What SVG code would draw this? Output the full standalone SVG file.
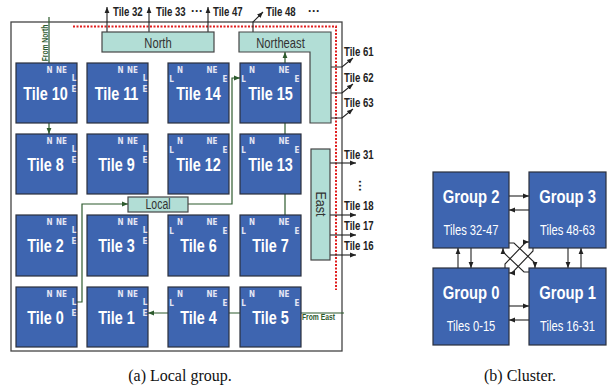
<svg xmlns="http://www.w3.org/2000/svg" width="610" height="392" viewBox="0 0 610 392">
<defs>
<marker id="ah" viewBox="0 0 10 10" refX="10" refY="5" markerWidth="6" markerHeight="6" markerUnits="userSpaceOnUse" orient="auto"><path d="M0,1 L10,5 L0,9z" fill="#222"/></marker>
<marker id="gh" viewBox="0 0 10 10" refX="10" refY="5" markerWidth="6" markerHeight="6" markerUnits="userSpaceOnUse" orient="auto"><path d="M0,1 L10,5 L0,9z" fill="#2d5a2d"/></marker>
<style>
.tile{fill:#3e65b0;stroke:#2a2f3d;stroke-width:1.2}
.tl{font-family:"Liberation Sans",Arial,sans-serif;font-weight:bold;font-size:18px;fill:#fff;text-anchor:middle}
.p{font-family:"DejaVu Sans Condensed","DejaVu Sans",sans-serif;font-weight:bold;font-size:8px;fill:#e4e6f4;text-anchor:middle}
.box{fill:#b2ded6;stroke:#454545;stroke-width:1.2}
.bl{font-family:"Liberation Sans",Arial,sans-serif;font-size:14px;fill:#333;text-anchor:middle}
.ext{font-family:"Liberation Sans",Arial,sans-serif;font-weight:bold;font-size:12px;fill:#222}
.g{font-family:"Liberation Sans",Arial,sans-serif;font-weight:bold;font-size:9px;fill:#2d5a2d}
.w{fill:none;stroke:#222;stroke-width:1.1}
.gw{fill:none;stroke:#2d5a2d;stroke-width:1.2}
.gt{font-family:"Liberation Sans",Arial,sans-serif;font-weight:bold;font-size:18.5px;fill:#fff;text-anchor:middle}
.gs{font-family:"Liberation Sans",Arial,sans-serif;font-size:14px;fill:#fff;text-anchor:middle}
.cap{font-family:"Liberation Serif","Times New Roman",serif;font-size:16px;fill:#111;text-anchor:middle}
</style>
</defs>
<rect x="0" y="0" width="610" height="392" fill="#fff"/>

<!-- frame -->
<rect x="11" y="22" width="331" height="329" fill="none" stroke="#444" stroke-width="1.3"/>
<path d="M73,26.5 H336 V290" fill="none" stroke="#e01e1e" stroke-width="2" stroke-dasharray="2,1.5"/>

<!-- connectors -->
<g id="connectors">
  <path class="w" d="M107,32 V7" marker-end="url(#ah)"/>
  <path class="w" d="M149,32 V7" marker-end="url(#ah)"/>
  <path class="w" d="M208,32 V7" marker-end="url(#ah)"/>
  <path class="w" d="M253,32 V22 L263,12" marker-end="url(#ah)"/>
  <path class="w" d="M331,67 H342 L353,58" marker-end="url(#ah)"/>
  <path class="w" d="M331,93 H342 L353,84" marker-end="url(#ah)"/>
  <path class="w" d="M331,118 H342 L353,109" marker-end="url(#ah)"/>
  <path class="w" d="M330,163 H356" marker-end="url(#ah)"/>
  <path class="w" d="M330,215 H356" marker-end="url(#ah)"/>
  <path class="w" d="M330,235 H356" marker-end="url(#ah)"/>
  <path class="w" d="M330,255 H356" marker-end="url(#ah)"/>
  <path class="gw" d="M49,17 V63"/>
  <path class="gw" d="M49,123 V134" marker-end="url(#gh)"/>
  <path class="gw" d="M77,302 H82 V204 H128" marker-end="url(#gh)"/>
  <path class="gw" d="M188,204 H232 V78 H240" marker-end="url(#gh)"/>
  <path class="gw" d="M285,63 V52" marker-end="url(#gh)"/>
  <path class="gw" d="M285,123 V134"/>
  <path class="gw" d="M285,194 V215"/>
  <path class="gw" d="M344,313 H148" marker-end="url(#gh)"/>
  <!-- cluster -->
  <path class="w" d="M509,196 H529" marker-end="url(#ah)"/>
  <path class="w" d="M529,210 H509" marker-end="url(#ah)"/>
  <path class="w" d="M509,306 H529" marker-end="url(#ah)"/>
  <path class="w" d="M529,320 H509" marker-end="url(#ah)"/>
  <path class="w" d="M458,268 V248" marker-end="url(#ah)"/>
  <path class="w" d="M471,248 V268" marker-end="url(#ah)"/>
  <path class="w" d="M568,248 V268" marker-end="url(#ah)"/>
  <path class="w" d="M581,268 V248" marker-end="url(#ah)"/>
  <path class="w" d="M509,243 H514 L535,263 V268" marker-end="url(#ah)"/>
  <path class="w" d="M505,268 V264 L526,242 H529" marker-end="url(#ah)"/>
  <path class="w" d="M529,272 H524 L503,252 V248" marker-end="url(#ah)"/>
  <path class="w" d="M533,248 V251 L512,273 H509" marker-end="url(#ah)"/>
</g>

<!-- external labels -->
<g id="ext-labels">
  <text class="ext" transform="translate(113,16) scale(0.8,1)">Tile 32</text>
  <text class="ext" transform="translate(156,16) scale(0.8,1)">Tile 33</text>
  <text class="ext" x="191" y="15">···</text>
  <text class="ext" transform="translate(213,16) scale(0.8,1)">Tile 47</text>
  <text class="ext" transform="translate(266,16) scale(0.8,1)">Tile 48</text>
  <text class="ext" x="308" y="15">···</text>
  <text class="ext" transform="translate(344,56) scale(0.8,1)">Tile 61</text>
  <text class="ext" transform="translate(344,82) scale(0.8,1)">Tile 62</text>
  <text class="ext" transform="translate(344,107) scale(0.8,1)">Tile 63</text>
  <text class="ext" transform="translate(344,159) scale(0.8,1)">Tile 31</text>
  <text class="ext" transform="translate(356,180) rotate(90)">···</text>
  <text class="ext" transform="translate(344,210) scale(0.8,1)">Tile 18</text>
  <text class="ext" transform="translate(344,230) scale(0.8,1)">Tile 17</text>
  <text class="ext" transform="translate(344,250) scale(0.8,1)">Tile 16</text>
  <text class="g" text-anchor="middle" transform="translate(47.5,43) rotate(-90) scale(0.75,1)">From North</text>
  <text class="g" transform="translate(302,320) scale(0.75,1)">From East</text>
</g>

<!-- router boxes -->
<g id="north"><rect class="box" x="102" y="32" width="112" height="20"/><text class="bl" transform="translate(158,48) scale(0.8,1)">North</text></g>
<g id="northeast"><path class="box" d="M239,32 H331 V123 H310 V52 H239 Z"/><text class="bl" transform="translate(280.5,47.5) scale(0.8,1)">Northeast</text></g>
<g id="east"><rect class="box" x="311" y="149" width="19" height="111"/><text class="bl" font-size="12" transform="translate(315.5,204) rotate(90) scale(0.9,1)">East</text></g>
<g id="local"><rect class="box" x="128" y="197" width="60" height="15"/><text class="bl" font-size="12" transform="translate(158,208.5) scale(0.75,1)">Local</text></g>

<!-- tiles: left-type -->
<g id="tile10" transform="translate(16,63)"><rect class="tile" width="61" height="60"/><text class="tl" transform="translate(29.5,36.5) scale(0.8,1)">Tile 10</text><text class="p" x="33.5" y="9.5">N</text><text class="p" x="45.5" y="9.5">NE</text><text class="p" x="58" y="18">L</text><text class="p" x="58" y="29">E</text></g>
<g id="tile11" transform="translate(87,63)"><rect class="tile" width="61" height="60"/><text class="tl" transform="translate(29.5,36.5) scale(0.8,1)">Tile 11</text><text class="p" x="33.5" y="9.5">N</text><text class="p" x="45.5" y="9.5">NE</text><text class="p" x="58" y="18">L</text><text class="p" x="58" y="29">E</text></g>
<g id="tile8" transform="translate(16,134)"><rect class="tile" width="61" height="60"/><text class="tl" transform="translate(29.5,36.5) scale(0.8,1)">Tile 8</text><text class="p" x="33.5" y="9.5">N</text><text class="p" x="45.5" y="9.5">NE</text><text class="p" x="58" y="18">L</text><text class="p" x="58" y="29">E</text></g>
<g id="tile9" transform="translate(87,134)"><rect class="tile" width="61" height="60"/><text class="tl" transform="translate(29.5,36.5) scale(0.8,1)">Tile 9</text><text class="p" x="33.5" y="9.5">N</text><text class="p" x="45.5" y="9.5">NE</text><text class="p" x="58" y="18">L</text><text class="p" x="58" y="29">E</text></g>
<g id="tile2" transform="translate(16,215)"><rect class="tile" width="61" height="61"/><text class="tl" transform="translate(29.5,36.5) scale(0.8,1)">Tile 2</text><text class="p" x="33.5" y="9.5">N</text><text class="p" x="45.5" y="9.5">NE</text><text class="p" x="58" y="18">L</text><text class="p" x="58" y="29">E</text></g>
<g id="tile3" transform="translate(87,215)"><rect class="tile" width="61" height="61"/><text class="tl" transform="translate(29.5,36.5) scale(0.8,1)">Tile 3</text><text class="p" x="33.5" y="9.5">N</text><text class="p" x="45.5" y="9.5">NE</text><text class="p" x="58" y="18">L</text><text class="p" x="58" y="29">E</text></g>
<g id="tile0" transform="translate(16,287)"><rect class="tile" width="61" height="60"/><text class="tl" transform="translate(29.5,36.5) scale(0.8,1)">Tile 0</text><text class="p" x="33.5" y="9.5">N</text><text class="p" x="45.5" y="9.5">NE</text><text class="p" x="58" y="18">L</text><text class="p" x="58" y="29">E</text></g>
<g id="tile1" transform="translate(87,287)"><rect class="tile" width="61" height="60"/><text class="tl" transform="translate(29.5,36.5) scale(0.8,1)">Tile 1</text><text class="p" x="33.5" y="9.5">N</text><text class="p" x="45.5" y="9.5">NE</text><text class="p" x="58" y="18">L</text><text class="p" x="58" y="29">E</text></g>

<!-- tiles: right-type -->
<g id="tile14" transform="translate(168,63)"><rect class="tile" width="61" height="60"/><text class="tl" transform="translate(30.5,36.5) scale(0.8,1)">Tile 14</text><text class="p" x="12" y="9.5">N</text><text class="p" x="44" y="9.5">NE</text><text class="p" x="3.5" y="18.5">L</text><text class="p" x="57" y="18.5">E</text></g>
<g id="tile15" transform="translate(240,63)"><rect class="tile" width="61" height="60"/><text class="tl" transform="translate(30.5,36.5) scale(0.8,1)">Tile 15</text><text class="p" x="12" y="9.5">N</text><text class="p" x="44" y="9.5">NE</text><text class="p" x="3.5" y="18.5">L</text><text class="p" x="57" y="18.5">E</text></g>
<g id="tile12" transform="translate(168,134)"><rect class="tile" width="61" height="60"/><text class="tl" transform="translate(30.5,36.5) scale(0.8,1)">Tile 12</text><text class="p" x="12" y="9.5">N</text><text class="p" x="44" y="9.5">NE</text><text class="p" x="3.5" y="18.5">L</text><text class="p" x="57" y="18.5">E</text></g>
<g id="tile13" transform="translate(240,134)"><rect class="tile" width="61" height="60"/><text class="tl" transform="translate(30.5,36.5) scale(0.8,1)">Tile 13</text><text class="p" x="12" y="9.5">N</text><text class="p" x="44" y="9.5">NE</text><text class="p" x="3.5" y="18.5">L</text><text class="p" x="57" y="18.5">E</text></g>
<g id="tile6" transform="translate(168,215)"><rect class="tile" width="61" height="61"/><text class="tl" transform="translate(30.5,36.5) scale(0.8,1)">Tile 6</text><text class="p" x="12" y="9.5">N</text><text class="p" x="44" y="9.5">NE</text><text class="p" x="3.5" y="18.5">L</text><text class="p" x="57" y="18.5">E</text></g>
<g id="tile7" transform="translate(240,215)"><rect class="tile" width="61" height="61"/><text class="tl" transform="translate(30.5,36.5) scale(0.8,1)">Tile 7</text><text class="p" x="12" y="9.5">N</text><text class="p" x="44" y="9.5">NE</text><text class="p" x="3.5" y="18.5">L</text><text class="p" x="57" y="18.5">E</text></g>
<g id="tile4" transform="translate(168,287)"><rect class="tile" width="61" height="60"/><text class="tl" transform="translate(30.5,36.5) scale(0.8,1)">Tile 4</text><text class="p" x="12" y="9.5">N</text><text class="p" x="44" y="9.5">NE</text><text class="p" x="3.5" y="18.5">L</text><text class="p" x="57" y="18.5">E</text></g>
<g id="tile5" transform="translate(240,287)"><rect class="tile" width="61" height="60"/><text class="tl" transform="translate(30.5,36.5) scale(0.8,1)">Tile 5</text><text class="p" x="12" y="9.5">N</text><text class="p" x="44" y="9.5">NE</text><text class="p" x="3.5" y="18.5">L</text><text class="p" x="57" y="18.5">E</text></g>

<!-- cluster -->
<g id="group2" transform="translate(433,172)"><rect class="tile" width="76" height="76"/><text class="gt" transform="translate(38,31) scale(0.8,1)">Group 2</text><text class="gs" transform="translate(38,63) scale(0.8,1)">Tiles 32-47</text></g>
<g id="group3" transform="translate(529,172)"><rect class="tile" width="77" height="76"/><text class="gt" transform="translate(38.5,31) scale(0.8,1)">Group 3</text><text class="gs" transform="translate(38.5,63) scale(0.8,1)">Tiles 48-63</text></g>
<g id="group0" transform="translate(433,268)"><rect class="tile" width="76" height="77"/><text class="gt" transform="translate(38,31) scale(0.8,1)">Group 0</text><text class="gs" transform="translate(38,63) scale(0.8,1)">Tiles 0-15</text></g>
<g id="group1" transform="translate(529,268)"><rect class="tile" width="77" height="77"/><text class="gt" transform="translate(38.5,31) scale(0.8,1)">Group 1</text><text class="gs" transform="translate(38.5,63) scale(0.8,1)">Tiles 16-31</text></g>

<!-- captions -->
<text class="cap" x="180" y="381">(a) Local group.</text>
<text class="cap" x="520" y="381">(b) Cluster.</text>
</svg>
